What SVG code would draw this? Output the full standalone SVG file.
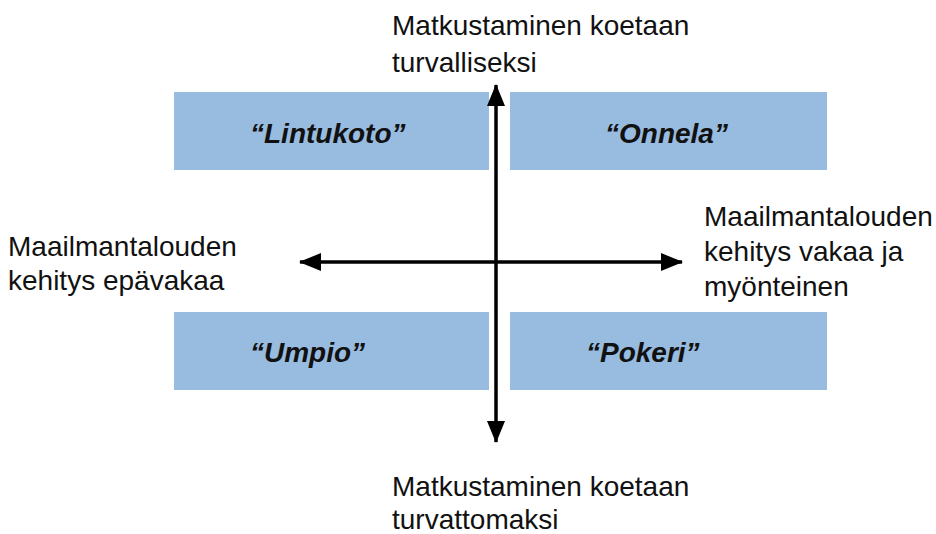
<svg xmlns="http://www.w3.org/2000/svg" width="936" height="534" viewBox="0 0 936 534">
<style>
.box{fill:#98BBE0}
.lbl{font-family:"Liberation Sans",Arial,sans-serif;font-size:28px;fill:#111}
.name{font-family:"Liberation Sans",Arial,sans-serif;font-size:28px;font-weight:bold;font-style:italic;fill:#111}
.ax{stroke:#000;stroke-width:3.5;fill:none}
</style>
<defs>
<marker id="ah" viewBox="0 0 22 18" refX="21" refY="9" markerWidth="22" markerHeight="18" markerUnits="userSpaceOnUse" orient="auto-start-reverse">
<path d="M0,0 L22,9 L0,18 Z" fill="#000"/>
</marker>
</defs>
<rect x="0" y="0" width="936" height="534" fill="#fff"/>
<g id="lintukoto"><rect class="box" x="174" y="92" width="315" height="78"/><text class="name" x="250" y="143">“Lintukoto”</text></g>
<g id="onnela"><rect class="box" x="510" y="92" width="317" height="78"/><text class="name" x="605" y="143">“Onnela”</text></g>
<g id="umpio"><rect class="box" x="174" y="312" width="315" height="78"/><text class="name" x="250" y="362">“Umpio”</text></g>
<g id="pokeri"><rect class="box" x="510" y="312" width="317" height="78"/><text class="name" x="586" y="362">“Pokeri”</text></g>
<g id="connectors">
<line class="ax" x1="496" y1="442" x2="496" y2="85" marker-start="url(#ah)" marker-end="url(#ah)"/>
<line class="ax" x1="300" y1="262" x2="682" y2="262" marker-start="url(#ah)" marker-end="url(#ah)"/>
</g>
<g id="label-top"><text class="lbl" x="392" y="35">Matkustaminen koetaan</text><text class="lbl" x="392" y="72">turvalliseksi</text></g>
<g id="label-bottom"><text class="lbl" x="392" y="496">Matkustaminen koetaan</text><text class="lbl" x="392" y="529">turvattomaksi</text></g>
<g id="label-left"><text class="lbl" x="8" y="256">Maailmantalouden</text><text class="lbl" x="8" y="290">kehitys epävakaa</text></g>
<g id="label-right"><text class="lbl" x="704" y="226">Maailmantalouden</text><text class="lbl" x="704" y="261">kehitys vakaa ja</text><text class="lbl" x="704" y="296">myönteinen</text></g>
</svg>
